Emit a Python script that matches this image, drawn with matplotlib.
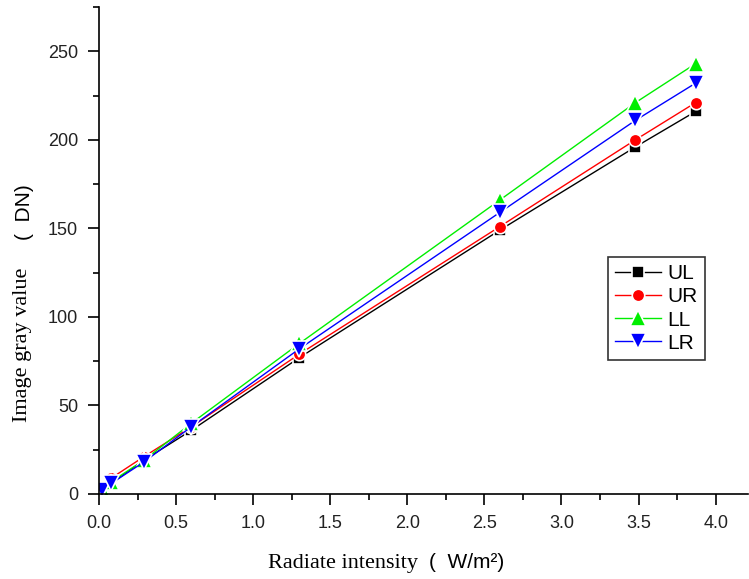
import matplotlib
matplotlib.use("Agg")
import matplotlib.pyplot as plt
from matplotlib.ticker import MultipleLocator

x = [0.02, 0.08, 0.29, 0.6, 1.3, 2.6, 3.48, 3.87]
ul = [3, 6, 19, 36, 77, 149, 196, 216]
ur = [4, 9, 21, 38, 79, 151, 200, 221]
ll = [3, 7, 19, 40, 85, 166, 221, 243]
lr = [2, 6, 18, 38, 82, 159, 211, 232]
series = [("UL", ul, "black", "s", 8.5), ("UR", ur, "red", "o", 9),
          ("LL", ll, "#00ee00", "^", 11), ("LR", lr, "blue", "v", 11)]

fig = plt.figure(figsize=(7.49, 5.79), dpi=100)
ax = fig.add_axes([99/749, 85/579, (748-99)/749, (494-7)/579])

for name, ys, c, m, ms in series:
    ax.plot(x, ys, color=c, lw=1.0, marker=m, markersize=ms,
            markerfacecolor=c, markeredgecolor="white", markeredgewidth=1.2,
            label=name)

ax.set_xlim(0, 4.21)
ax.set_ylim(0, 275)
ax.xaxis.set_minor_locator(MultipleLocator(0.25))
ax.yaxis.set_minor_locator(MultipleLocator(25))
ax.set_xticks([0, 0.5, 1.0, 1.5, 2.0, 2.5, 3.0, 3.5, 4.0])
ax.set_xticklabels(["0.0", "0.5", "1.0", "1.5", "2.0", "2.5", "3.0", "3.5", "4.0"])
ax.set_yticks([0, 50, 100, 150, 200, 250])
for s in ["top", "right"]:
    ax.spines[s].set_visible(False)
for s in ["left", "bottom"]:
    ax.spines[s].set_linewidth(1.2)
ax.tick_params(which="major", direction="out", length=8, width=1.2,
               labelsize=13, pad=7)
ax.tick_params(which="minor", direction="out", length=4.5, width=1.2)
for lab in ax.get_xticklabels() + ax.get_yticklabels():
    lab.set_family("Liberation Sans")
    lab.set_color("#222222")

leg = ax.legend(loc="upper left", bbox_to_anchor=(608/749, (579-257)/579),
                bbox_transform=fig.transFigure, fancybox=False, frameon=True,
                edgecolor="black", prop={"family": "Liberation Sans", "size": 15},
                handlelength=2.2, handletextpad=0.3, labelspacing=0.2,
                borderpad=0.35, borderaxespad=0)
leg.get_frame().set_linewidth(1.2)

fig.text(268/749, (579-568)/579, "Radiate intensity", family="Liberation Serif",
         fontsize=16, ha="left", va="baseline")
fig.text(429/749, (579-568)/579, "(  W/m\u00b2)", family="Liberation Sans",
         fontsize=15, ha="left", va="baseline")
fig.text(23/749, (579-422)/579, "Image gray value", family="Liberation Serif",
         fontsize=16, rotation=90, ha="center", va="bottom")
fig.text(25/749, (579-240)/579, "(  DN)", family="Liberation Sans",
         fontsize=15, rotation=90, ha="center", va="bottom")

fig.savefig("out.png", dpi=100)
